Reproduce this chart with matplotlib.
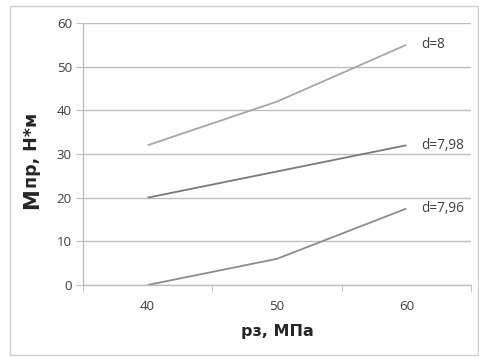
import matplotlib
matplotlib.use("Agg")
import matplotlib.pyplot as plt
from matplotlib.patches import Rectangle

plt.rcParams["font.family"] = ["Open Sans", "DejaVu Sans"]

p_z = ["40", "50", "60"]
m_d8 = [32, 42, 55]
m_d798 = [20, 26, 32]
m_d796 = [0, 6, 17.5]
series_names = ["d=8", "d=7,98", "d=7,96"]
series_colors = ["#a6a6a6", "#7a7a7a", "#8c8c8c"]

W, H = 479, 358
fig = plt.figure(figsize=(W / 100, H / 100), dpi=100)
ax = fig.add_axes([83 / W, 1 - 285 / H, (471 - 83) / W, (285 - 23) / H])

x = range(len(p_z))
for vals, name, col in zip([m_d8, m_d798, m_d796], series_names, series_colors):
    ax.plot(x, vals, color=col, linewidth=1.3, solid_capstyle="butt")
    ax.annotate(name, xy=(x[-1], vals[-1]), xytext=(11, 0),
                textcoords="offset points", ha="left", va="center",
                fontsize=9.8, color="#404040")

ax.set_xlim(-0.5, len(p_z) - 0.5)
ax.set_ylim(0, 60)
ax.set_yticks(range(0, 61, 10))
ax.set_xticks(list(x))
ax.set_xticklabels(p_z)
ax.set_xticks([i - 0.5 for i in range(len(p_z) + 1)], minor=True)
ax.tick_params(axis="x", which="major", length=0, pad=11, labelsize=9.5,
               labelcolor="#404040")
ax.tick_params(axis="x", which="minor", length=5, color="#bfbfbf")
ax.tick_params(axis="y", length=5, color="#bfbfbf", labelsize=9.5,
               labelcolor="#404040", pad=3)
ax.grid(axis="y", color="#bfbfbf", linewidth=1.0)
ax.set_axisbelow(True)
for s in ["top", "right"]:
    ax.spines[s].set_visible(False)
for s in ["left", "bottom"]:
    ax.spines[s].set_color("#bfbfbf")
    ax.spines[s].set_linewidth(1.0)

bold = dict(family=["DejaVu Sans"], fontweight="bold", color="#262626")
ax.set_xlabel("рз, МПа", fontsize=11.5, labelpad=8, **bold)

t_m = fig.text(32 / W, 1 - 209 / H, "М", rotation=90, ha="center", va="bottom",
               fontsize=15, **bold)
ax.annotate("пр, Н*м", xy=(0.5, 1.0), xycoords=t_m, ha="center", va="bottom",
            rotation=90, fontsize=12.5, annotation_clip=False, **bold)

fig.patches.append(Rectangle((10 / W, 1 - 355 / H), (478 - 10) / W,
                             (355 - 6) / H, transform=fig.transFigure,
                             fill=False, edgecolor="#d0d0d0", linewidth=1.0))

fig.savefig("out.png", dpi=100)
